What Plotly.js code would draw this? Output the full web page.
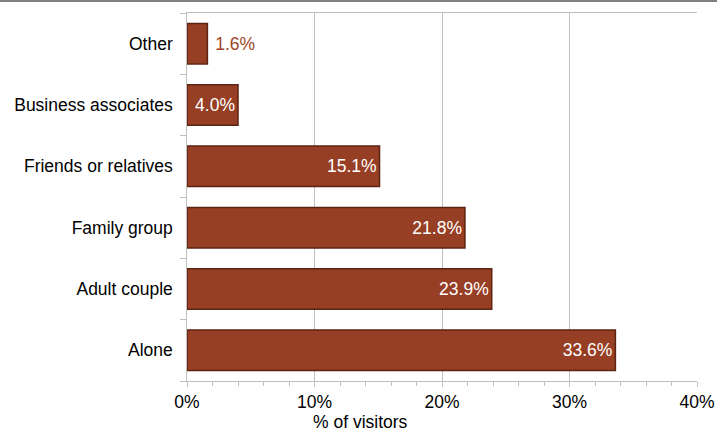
<!DOCTYPE html>
<html><head><meta charset="utf-8">
<script src="https://cdn.plot.ly/plotly-3.0.1.min.js"></script>
<style>
html,body{margin:0;padding:0;background:#fff;}
#topline{width:717px;height:2px;background:#808080;}
#chart{width:717px;height:429px;}
</style></head>
<body><div id="topline"></div><div id="chart"></div>
<script>
const categories = ["Alone","Adult couple","Family group","Friends or relatives","Business associates","Other"];
const values = [33.6, 23.9, 21.8, 15.1, 4.0, 1.6];
const labels = ["33.6%","23.9%","21.8%","15.1%","4.0%","1.6%"];
const xTickVals = [0,10,20,30,40];
const xTickText = ["0%","10%","20%","30%","40%"];
const xTitle = "% of visitors";

const FONT = "Liberation Sans, Arial, sans-serif";
const FS = 17.5;

const trace = {
  type: "bar", orientation: "h",
  y: categories, x: values,
  text: labels,
  texttemplate: " %{text}",
  textposition: values.map(v => v < 3 ? "outside" : "inside"),
  insidetextanchor: "end",
  textfont: {family: FONT, size: FS},
  insidetextfont: {color: "#ffffff", family: FONT, size: FS},
  outsidetextfont: {color: "#a0452a", family: FONT, size: FS},
  constraintext: "none",
  cliponaxis: false,
  width: 0.66,
  marker: {color: "#973f24", line: {color: "#5c2412", width: 1.5}},
  hoverinfo: "none"
};

const layout = {
  width: 717, height: 429,
  margin: {l: 187, r: 20, t: 11, b: 50},
  paper_bgcolor: "#ffffff", plot_bgcolor: "#ffffff",
  showlegend: false,
  font: {family: FONT, size: FS, color: "#000"},
  xaxis: {
    range: [0, 40], tickvals: xTickVals, ticktext: xTickText,
    showgrid: true, gridcolor: "#c0c0c0", gridwidth: 1,
    zeroline: false, showline: true, linecolor: "#c0c0c0", mirror: true,
    ticks: "outside", ticklen: 5, tickcolor: "#c0c0c0",
    minor: {dtick: 2, ticks: "outside", ticklen: 4, tickcolor: "#c0c0c0", showgrid: false},
    tickfont: {size: FS}
  },
  yaxis: {
    showgrid: false, zeroline: false, showline: true, linecolor: "#c0c0c0",
    ticks: "outside", tickson: "boundaries", ticklen: 6, tickcolor: "#c0c0c0",
    tickfont: {size: FS}, ticksuffix: "  "
  },
  annotations: [{
    text: xTitle, xref: "paper", yref: "paper", x: 0.341, y: -0.112,
    xanchor: "center", yanchor: "middle", showarrow: false,
    font: {family: FONT, size: FS, color: "#000"}
  }],
  bargap: 0.32
};

Plotly.newPlot("chart", [trace], layout, {displayModeBar: false, staticPlot: true});
</script></body></html>
